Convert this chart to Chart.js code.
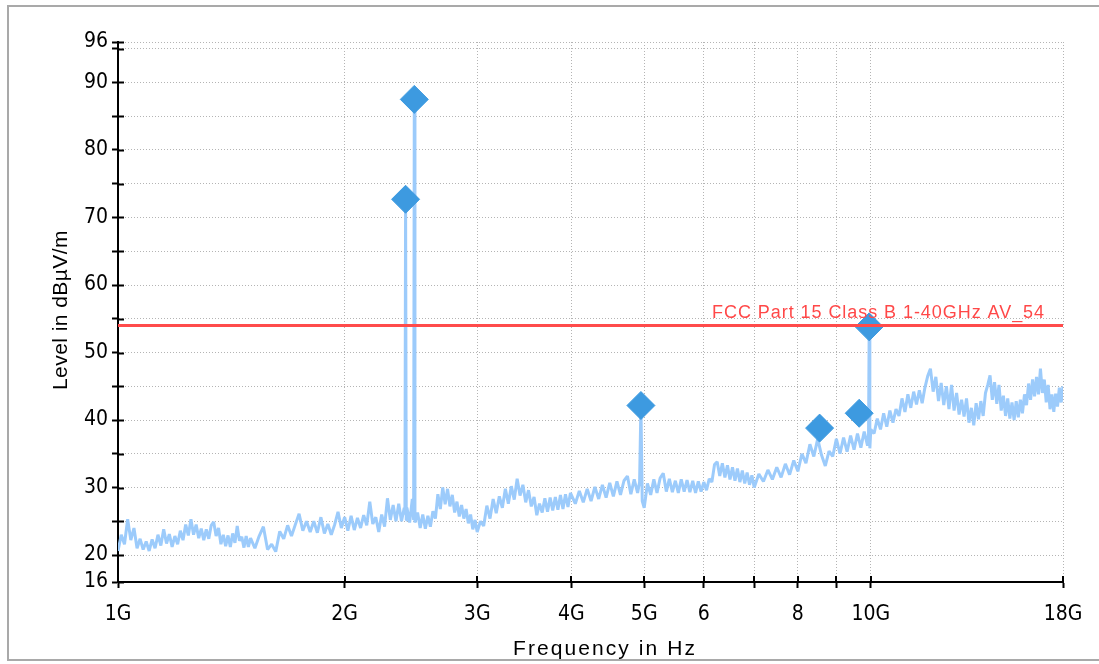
<!DOCTYPE html>
<html lang="en">
<head>
<meta charset="UTF-8">
<title>Level in dBµV/m vs Frequency</title>
<script src="https://cdn.jsdelivr.net/npm/chart.js@4.4.1/dist/chart.umd.min.js"></script>
<style>
  html, body { margin: 0; padding: 0; background: #fff; }
  #wrap { position: relative; width: 1099px; height: 664px; }
</style>
</head>
<body>
<div id="wrap"><canvas id="chart"></canvas></div>
<script>
const traceFreqs = [
  1.00, 1.01, 1.02, 1.03, 1.04, 1.05, 1.06, 1.07, 1.08, 1.09,
  1.10, 1.11, 1.12, 1.13, 1.14, 1.15, 1.16, 1.17, 1.18, 1.19,
  1.20, 1.21, 1.22, 1.23, 1.24, 1.25, 1.26, 1.27, 1.28, 1.29,
  1.30, 1.31, 1.32, 1.33, 1.34, 1.35, 1.36, 1.37, 1.38, 1.39,
  1.40, 1.41, 1.42, 1.43, 1.44, 1.45, 1.46, 1.47, 1.48, 1.49,
  1.50,
  1.52, 1.54, 1.56, 1.58, 1.60, 1.62, 1.64, 1.66, 1.68, 1.70,
  1.72, 1.74, 1.76, 1.78, 1.80, 1.82, 1.84, 1.86, 1.88, 1.90,
  1.92, 1.94, 1.96, 1.98, 2.00, 2.02, 2.04, 2.06, 2.08, 2.10,
  2.12, 2.14, 2.16, 2.18, 2.20, 2.22, 2.24, 2.26, 2.28, 2.30,
  2.32, 2.34, 2.36, 2.38,
  2.40, 2.405, 2.41, 2.415, 2.42, 2.44, 2.46, 2.47, 2.475, 2.48, 2.50,
  2.52, 2.54, 2.56, 2.58, 2.60, 2.62, 2.64, 2.66, 2.68, 2.70,
  2.72, 2.74, 2.76, 2.78, 2.80, 2.82, 2.84, 2.86, 2.88, 2.90,
  2.92, 2.94, 2.96, 2.98, 3.00,
  3.03, 3.06, 3.09, 3.12, 3.15, 3.18, 3.21, 3.24, 3.27, 3.30,
  3.33, 3.36, 3.39, 3.42, 3.45, 3.48, 3.51, 3.54, 3.57, 3.60,
  3.63, 3.66, 3.69, 3.72, 3.75, 3.78, 3.81, 3.84, 3.87, 3.90,
  3.93, 3.96, 3.99,
  4.05, 4.10, 4.15, 4.20, 4.25, 4.30, 4.35, 4.40, 4.45, 4.50,
  4.55, 4.60, 4.65, 4.70, 4.75, 4.80, 4.85, 4.90, 4.93, 4.95,
  4.97, 5.00,
  5.05, 5.10, 5.15, 5.20, 5.25, 5.30, 5.35, 5.40, 5.45, 5.50,
  5.55, 5.60, 5.65, 5.70, 5.75, 5.80, 5.85, 5.90, 5.95, 6.00,
  6.05, 6.10, 6.15, 6.20, 6.25, 6.30, 6.35, 6.40, 6.45, 6.50,
  6.55, 6.60, 6.65, 6.70, 6.75, 6.80, 6.85, 6.90, 6.95, 7.00,
  7.1, 7.2, 7.3, 7.4, 7.5, 7.6, 7.7, 7.8, 7.9, 8.0,
  8.1, 8.2, 8.3, 8.4, 8.5, 8.6, 8.7, 8.8, 8.9, 9.0,
  9.1, 9.2, 9.3, 9.4, 9.5, 9.6, 9.7, 9.8, 9.9, 9.93,
  9.95, 9.97, 10.0,
  10.1, 10.2, 10.3, 10.4, 10.5, 10.6, 10.7, 10.8, 10.9, 11.0,
  11.1, 11.2, 11.3, 11.4, 11.5, 11.6, 11.7, 11.8, 11.9, 12.0,
  12.1, 12.2, 12.3, 12.4, 12.5, 12.6, 12.7, 12.8, 12.9, 13.0,
  13.1, 13.2, 13.3, 13.4, 13.5, 13.6, 13.7, 13.8, 13.9, 14.0,
  14.1, 14.2, 14.3, 14.4, 14.5, 14.6, 14.7, 14.8, 14.9, 15.0,
  15.1, 15.2, 15.3, 15.4, 15.5, 15.6, 15.7, 15.8, 15.9, 16.0,
  16.1, 16.2, 16.3, 16.4, 16.5, 16.6, 16.7, 16.8, 16.9, 17.0,
  17.1, 17.2, 17.3, 17.4, 17.5, 17.6, 17.7, 17.8, 17.9, 18.0
];
const traceLevels = [
  20.6, 23.0, 21.6, 25.3, 22.2, 24.0, 21.0, 22.4, 20.8, 22.0,
  20.6, 22.3, 21.0, 23.0, 21.4, 23.8, 21.7, 23.1, 21.2, 22.8,
  21.6, 23.6, 22.2, 24.5, 22.9, 25.3, 23.0, 24.5, 22.5, 23.9,
  22.2, 23.8, 22.4, 24.4, 24.9, 22.8, 24.0, 21.6, 23.0, 21.3,
  22.9, 21.2, 23.2, 21.8, 24.3, 22.1, 22.7, 21.1, 22.8, 21.2,
  22.5,
  21.0, 22.8, 24.2, 20.8, 21.6, 20.5, 23.5, 22.4, 24.4, 22.8,
  24.5, 26.1, 23.6, 25.0, 23.4, 25.0, 23.3, 25.6, 23.2, 24.6,
  23.0, 24.5, 26.4, 24.0, 25.6, 23.6, 25.8, 23.7, 25.5, 24.0,
  25.9, 24.4, 27.9, 24.6, 25.6, 23.4, 26.0, 24.2, 28.4, 25.2,
  27.4, 25.0, 27.6, 25.0,
  27.0, 26.0, 72.7, 25.2, 27.0, 24.8, 28.3, 25.2, 87.5, 24.8, 26.3,
  24.0, 26.0, 23.9, 25.8, 24.2, 26.5, 25.4, 29.0, 26.8, 30.0,
  27.5, 29.8, 27.2, 28.9, 26.3, 27.9, 25.7, 27.4, 25.4, 26.8,
  24.7, 26.0, 23.8, 25.2, 23.4,
  25.0, 24.3, 27.3, 25.4, 28.3, 26.2, 28.7, 27.0, 29.8, 27.6,
  30.2, 28.2, 31.3, 28.8, 30.4, 27.8, 29.6, 27.2, 28.6, 25.9,
  27.6, 26.3, 28.4, 26.4, 28.5, 26.6, 28.6, 26.7, 28.9, 26.8,
  29.0, 27.1, 29.2,
  27.6, 29.5, 27.8, 29.8, 28.0, 30.1, 28.3, 30.4, 28.5, 30.7,
  28.7, 30.9, 28.9, 31.0, 31.7, 29.0, 31.2, 29.2, 30.8, 42.15,
  28.0, 27.0,
  30.6, 28.9, 31.2, 29.2, 31.4, 32.1, 29.4, 31.3, 29.3, 31.0,
  29.2, 31.2, 29.4, 31.1, 29.3, 31.0, 29.2, 30.9, 29.4, 30.8,
  29.6, 31.3, 30.8, 33.4, 33.8, 31.7, 33.6, 31.5, 33.3, 31.2,
  33.0, 31.0, 32.8, 30.8, 32.5, 30.6, 32.2, 30.4, 31.8, 30.0,
  32.0, 30.9, 32.6, 31.2, 33.0, 31.5, 33.5, 31.9, 34.0, 32.4,
  35.0, 33.6, 36.4, 34.6, 37.2, 34.8, 33.2, 35.4, 34.6, 37.2,
  35.0, 37.4, 35.3, 37.7, 35.6, 38.0, 35.9, 38.3, 36.2, 37.8,
  53.8, 35.8, 38.6,
  38.0, 40.2, 38.6, 41.0, 39.0, 41.4, 39.6, 41.6, 40.6, 43.2,
  41.2, 43.8, 41.8, 44.2, 42.3, 44.4, 42.5, 44.8, 46.5, 47.6,
  44.2, 46.4, 42.8, 45.5, 42.2, 45.0, 41.6, 45.2, 41.4, 44.0,
  40.8, 43.0, 40.5, 43.2, 39.6, 41.8, 39.2, 42.5, 40.1, 42.8,
  40.6, 44.0, 45.2, 46.6, 43.0, 45.6, 42.4, 45.2, 41.4, 43.6,
  40.6, 43.2, 40.2, 42.6, 40.0, 42.8, 40.4, 43.0, 41.0, 43.8,
  42.2, 45.4, 43.0, 46.0, 43.5, 46.4, 43.8, 47.6, 44.0, 46.0,
  42.6, 45.2, 41.6, 43.8, 41.2, 43.9, 42.0, 44.8, 42.6, 45.0
];

// final measurement markers
const markerFreqs = [2.41, 2.475, 4.95, 8.55, 9.65, 9.95];
const markerLevels = [72.7, 87.5, 42.15, 38.8, 41.0, 53.8];

// limit line
const limitFreqs = [1, 18];
const limitLevels = [54, 54];
const limitName = 'FCC Part 15 Class B 1-40GHz AV_54';

const xTickValues = [1, 2, 3, 4, 5, 6, 7, 8, 9, 10, 18];
const xTickLabels = ['1G', '2G', '3G', '4G', '5G', '6', '', '8', '', '10G', '18G'];
const yTickValues = [16, 20, 25, 30, 35, 40, 45, 50, 55, 60, 65, 70, 75, 80, 85, 90, 95, 96];
const yTickLabels = ['16', '20', '', '30', '', '40', '', '50', '', '60', '', '70', '', '80', '', '90', '', '96'];

const xTitle = 'Frequency in Hz';
const yTitle = 'Level in dBµV/m';

const narrowFont = "'Liberation Sans Narrow', 'DejaVu Sans Condensed', sans-serif";
const plainFont = "'Liberation Sans', Arial, sans-serif";

function toPoints(xs, ys) {
  return xs.map((x, i) => ({ x: x, y: ys[i] }));
}

// draw text stretched to a given width with letter spacing
function spacedText(ctx, text, left, baseline, width) {
  ctx.letterSpacing = '0px';
  const natural = ctx.measureText(text).width;
  ctx.letterSpacing = ((width - natural) / text.length) + 'px';
  ctx.textAlign = 'left';
  ctx.textBaseline = 'alphabetic';
  ctx.fillText(text, left, baseline);
  ctx.letterSpacing = '0px';
}

const decor = {
  id: 'decor',
  beforeDraw(chart) {
    const ctx = chart.ctx;
    ctx.save();
    ctx.strokeStyle = '#a9a9a9';
    ctx.lineWidth = 2;
    ctx.strokeRect(8, 6, chart.width + 10, 654);
    ctx.restore();
  },
  afterDatasetsDraw(chart) {
    const ctx = chart.ctx;
    const area = chart.chartArea;
    const yLine = chart.scales.y.getPixelForValue(limitLevels[0]);
    ctx.save();
    ctx.fillStyle = '#ff4848';
    ctx.font = '18px ' + plainFont;
    spacedText(ctx, limitName, area.right - 351, yLine - 8, 333);
    ctx.restore();
  },
  afterDraw(chart) {
    const ctx = chart.ctx;
    const area = chart.chartArea;
    const xs = chart.scales.x;
    const ys = chart.scales.y;
    ctx.save();
    // inner half of the tick marks (ticks cross the axes)
    ctx.strokeStyle = '#000';
    ctx.lineWidth = 2;
    ctx.beginPath();
    yTickValues.forEach(v => {
      const py = Math.round(ys.getPixelForValue(v)) + 0.5;
      ctx.moveTo(area.left, py);
      ctx.lineTo(area.left + 6, py);
    });
    xTickValues.forEach(v => {
      const px = Math.round(xs.getPixelForValue(v));
      ctx.moveTo(px, area.bottom);
      ctx.lineTo(px, area.bottom - 6);
    });
    ctx.stroke();

    // axis titles
    ctx.fillStyle = '#000';
    ctx.font = '21px ' + plainFont;
    spacedText(ctx, xTitle, 513, 655, 184);

    ctx.translate(67, (area.top + area.bottom) / 2 - 2);
    ctx.rotate(-Math.PI / 2);
    ctx.font = '21px ' + plainFont;
    spacedText(ctx, yTitle, -80, 0, 160);
    ctx.restore();
  }
};

const gridStyle = {
  color: '#b4b4b4',
  lineWidth: 1,
  tickColor: '#000',
  tickWidth: 2,
  tickLength: 6
};
const borderStyle = { color: '#000', width: 2, dash: [1, 2] };
const tickFont = { family: narrowFont, size: 21 };

new Chart(document.getElementById('chart'), {
  type: 'line',
  data: {
    datasets: [
      {
        label: limitName,
        data: toPoints(limitFreqs, limitLevels),
        borderColor: '#ff4b4b',
        borderWidth: 3,
        pointRadius: 0
      },
      {
        label: 'Final',
        data: toPoints(markerFreqs, markerLevels),
        showLine: false,
        pointStyle: 'rectRot',
        pointRadius: 14,
        pointBackgroundColor: '#3d9ae0',
        pointBorderColor: '#3d9ae0',
        pointBorderWidth: 1
      },
      {
        label: 'Preview',
        data: toPoints(traceFreqs, traceLevels),
        borderColor: '#9ccbfb',
        borderWidth: 3,
        borderJoinStyle: 'bevel',
        pointRadius: 0,
        tension: 0
      }
    ]
  },
  options: {
    responsive: true,
    maintainAspectRatio: false,
    animation: false,
    devicePixelRatio: 1,
    layout: { padding: { top: 42, right: 36, bottom: 0, left: 0 } },
    plugins: {
      legend: { display: false },
      tooltip: { enabled: false }
    },
    scales: {
      x: {
        type: 'logarithmic',
        min: 1,
        max: 18,
        afterBuildTicks: s => { s.ticks = xTickValues.map(v => ({ value: v })); },
        afterFit: s => { s.height = 82; },
        ticks: {
          autoSkip: false,
          maxRotation: 0,
          padding: 14,
          color: '#000',
          font: tickFont,
          callback: (v, i) => xTickLabels[i]
        },
        grid: gridStyle,
        border: borderStyle
      },
      y: {
        min: 16,
        max: 96,
        afterBuildTicks: s => { s.ticks = yTickValues.map(v => ({ value: v })); },
        afterFit: s => { s.width = 118; },
        ticks: {
          autoSkip: false,
          padding: 4,
          color: '#000',
          font: tickFont,
          callback: (v, i) => yTickLabels[i]
        },
        grid: gridStyle,
        border: borderStyle
      }
    }
  },
  plugins: [decor]
});
</script>
</body>
</html>
